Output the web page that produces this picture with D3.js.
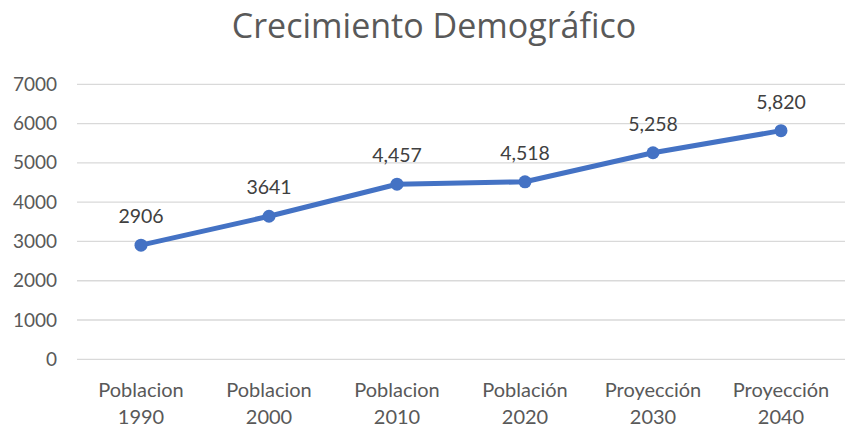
<!DOCTYPE html>
<html>
<head>
<meta charset="utf-8">
<script src="https://cdn.jsdelivr.net/npm/d3@7"></script>
<style>
  html, body { margin: 0; padding: 0; background: #fff; }
  svg { display: block; font-family: Lato, "Open Sans", sans-serif; }
</style>
</head>
<body>
<svg id="chart" width="845" height="426"></svg>
<script>
// Population data: census counts and projections
const categories = [
  ["Poblacion", "1990"],
  ["Poblacion", "2000"],
  ["Poblacion", "2010"],
  ["Población", "2020"],
  ["Proyección", "2030"],
  ["Proyección", "2040"]
];
const values = [2906, 3641, 4457, 4518, 5258, 5820];
const valueLabels = ["2906", "3641", "4,457", "4,518", "5,258", "5,820"];
const yTicks = [0, 1000, 2000, 3000, 4000, 5000, 6000, 7000];
const title = "Crecimiento Demográfico";

const svg = d3.select("#chart");
const textColor = "#595959";
const gridColor = "#d9d9d9";
const lineColor = "#4472C4";

const keys = categories.map(c => c.join(" "));
const x = d3.scalePoint().domain(keys).range([77, 845]).padding(0.5);
const y = d3.scaleLinear().domain([0, 7000]).range([359.3, 84.3]);

// Title, sized to span its intended width
const t = svg.append("text")
  .attr("x", 434).attr("y", 37.5)
  .attr("text-anchor", "middle")
  .attr("fill", textColor)
  .style("font-family", "'Open Sans', Lato, sans-serif")
  .style("font-size", "33px")
  .text(title);
const tw = t.node().getComputedTextLength();
t.style("font-size", Math.min(34, 33 * 442 / tw).toFixed(2) + "px");

// Horizontal gridlines
svg.append("g").selectAll("line")
  .data(yTicks).join("line")
  .attr("x1", 77).attr("x2", 845)
  .attr("y1", d => y(d)).attr("y2", d => y(d))
  .attr("stroke", gridColor).attr("stroke-width", 1.3);

// Y axis labels
const yAxis = svg.append("g")
  .attr("transform", "translate(57,0)")
  .call(d3.axisLeft(y).tickValues(yTicks).tickSize(0).tickPadding(0).tickFormat(d3.format("d")));
yAxis.select(".domain").remove();
yAxis.selectAll("text")
  .attr("fill", textColor)
  .style("font-size", "19px")
  .style("font-family", "Lato, 'Open Sans', sans-serif");

// X axis labels (two lines)
const xLab = svg.append("g").selectAll("text")
  .data(categories).join("text")
  .attr("x", (d, i) => x(keys[i]))
  .attr("y", 397)
  .attr("text-anchor", "middle")
  .attr("fill", textColor)
  .style("font-size", "20px");
xLab.append("tspan").attr("x", (d, i) => x(keys[i])).attr("dy", 0).text(d => d[0]);
xLab.append("tspan").attr("x", (d, i) => x(keys[i])).attr("dy", 26.5).text(d => d[1]);

// Line
const line = d3.line().x((d, i) => x(keys[i])).y(d => y(d));
svg.append("path")
  .datum(values)
  .attr("d", line)
  .attr("fill", "none")
  .attr("stroke", lineColor)
  .attr("stroke-width", 5)
  .attr("stroke-linejoin", "round")
  .attr("stroke-linecap", "round");

// Markers
svg.append("g").selectAll("circle")
  .data(values).join("circle")
  .attr("cx", (d, i) => x(keys[i]))
  .attr("cy", d => y(d))
  .attr("r", 6.5)
  .attr("fill", lineColor);

// Data labels
svg.append("g").selectAll("text")
  .data(values).join("text")
  .attr("x", (d, i) => x(keys[i]))
  .attr("y", d => y(d) - 22)
  .attr("text-anchor", "middle")
  .attr("fill", "#404040")
  .style("font-size", "19.5px")
  .text((d, i) => valueLabels[i]);
</script>
</body>
</html>
